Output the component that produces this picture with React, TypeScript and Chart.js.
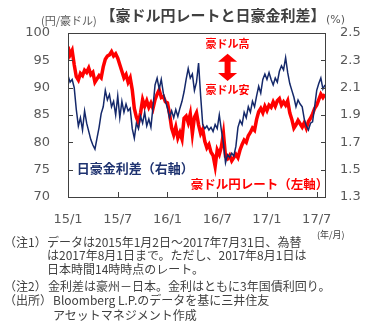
import React, { useEffect, useRef } from "react";
import { Chart, registerables } from "chart.js";
Chart.register(...registerables);

// x positions: quarter-month steps from 2015/1 (index 0) to 2017/8 (index 124)
const tickLabels = ["15/1", "15/7", "16/1", "16/7", "17/1", "17/7"];

// AUD/JPY rate (left axis, 円/豪ドル)
const audJpy = [
  97.5, 96.0, 96.8, 94.2, 92.0, 91.4, 92.6, 92.2, 93.2, 92.8,
  93.6, 92.4, 92.8, 91.0, 91.6, 92.2, 91.8, 93.8, 95.2, 95.8,
  96.0, 96.6, 95.8, 96.2, 95.4, 94.2, 93.0, 91.8, 92.4, 91.0,
  91.8, 89.6, 86.2, 84.6, 83.6, 85.4, 87.8, 86.6, 87.6, 86.4,
  87.2, 86.2, 87.8, 88.8, 89.6, 88.2, 88.4, 87.4, 87.2, 85.2,
  82.6, 81.4, 82.8, 80.8, 81.8, 80.6, 84.4, 84.8, 83.6, 85.2,
  81.6, 84.6, 85.4, 83.2, 81.6, 82.4, 80.2, 79.0, 79.6, 78.2,
  77.6, 75.6, 78.6, 77.8, 79.2, 81.6, 77.4, 77.0, 77.6, 76.6,
  77.2, 77.8, 77.2, 78.6, 79.6, 80.4, 80.0, 81.2, 81.8, 82.6,
  82.2, 84.2, 85.6, 86.2, 85.4, 86.6, 85.8, 86.8, 86.4, 87.4,
  86.6, 87.6, 88.0, 86.8, 87.4, 86.8, 87.6, 85.4, 84.2, 82.6,
  83.2, 84.0, 83.4, 82.8, 83.6, 82.6, 83.8, 84.4, 85.2, 86.2,
  86.8, 87.8, 88.8, 88.2, 88.8,
];

// AU-JP 3y yield spread (right axis, %)
const spread = [
  2.19, 2.14, 2.16, 2.10, 1.94, 1.82, 1.88, 1.79, 1.93, 1.84,
  1.78, 1.72, 1.68, 1.65, 1.73, 1.81, 1.91, 1.96, 2.08, 2.01,
  2.05, 1.96, 2.00, 1.90, 2.04, 1.88, 2.00, 1.92, 1.98, 1.93,
  1.95, 1.80, 1.73, 1.84, 1.80, 1.89, 1.84, 1.92, 1.82, 1.87,
  1.81, 1.96, 2.12, 2.17, 2.09, 2.16, 2.06, 2.00, 1.95, 1.88,
  1.93, 1.88, 1.94, 1.89, 1.95, 2.00, 2.07, 2.16, 2.24, 2.17,
  2.20, 2.08, 2.14, 2.28, 2.04, 1.83, 1.80, 1.82, 1.79, 1.81,
  1.78, 1.83, 1.80, 1.90, 1.79, 1.69, 1.55, 1.61, 1.59, 1.62,
  1.60, 1.67, 1.81, 1.86, 1.83, 1.92, 1.88, 1.96, 1.92, 2.00,
  1.96, 2.04, 2.11, 2.06, 2.16, 2.20, 2.16, 2.21, 2.16, 2.12,
  2.17, 2.14, 2.22, 2.26, 2.23, 2.32, 2.21, 2.13, 2.08, 2.03,
  1.96, 2.01, 1.98, 1.96, 1.87, 1.82, 1.79, 1.84, 1.85, 1.96,
  2.08, 2.13, 2.17, 2.09, 2.12,
];

const JP = '"Noto Sans CJK JP", "Noto Sans", sans-serif';
const NUM = '"DejaVu Sans", sans-serif';
const RED = "#ff0000";
const NAVY = "#14286a";
const GRAY = "#595959";
const DARK = "#404040";

const decor = {
  id: "decor",
  afterDraw(chart: any) {
    const { ctx, chartArea, scales } = chart;
    const { left, right, top, bottom } = chartArea;
    ctx.save();
    // frame
    ctx.strokeStyle = DARK;
    ctx.lineWidth = 1;
    ctx.strokeRect(left + 0.5, top + 0.5, right - left, bottom - top);
    // inner tick marks
    ctx.beginPath();
    scales.y.ticks.forEach((t: any) => {
      const py = Math.round(scales.y.getPixelForValue(t.value)) + 0.5;
      ctx.moveTo(left, py);
      ctx.lineTo(left + 5, py);
    });
    scales.y1.ticks.forEach((t: any) => {
      const py = Math.round(scales.y1.getPixelForValue(t.value)) + 0.5;
      ctx.moveTo(right + 1, py);
      ctx.lineTo(right - 4, py);
    });
    scales.x.ticks.forEach((t: any) => {
      if (t.value % 24 !== 0) return;
      const px = Math.round(scales.x.getPixelForValue(t.value)) + 0.5;
      ctx.moveTo(px, bottom);
      ctx.lineTo(px, bottom - 5);
    });
    ctx.stroke();

    const X = (i: number) => scales.x.getPixelForValue(i);
    const Y = (v: number) => scales.y.getPixelForValue(v);

    // 豪ドル高 / 豪ドル安 with double arrow
    ctx.fillStyle = RED;
    ctx.font = `bold 11px ${JP}`;
    ctx.textAlign = "center";
    ctx.textBaseline = "middle";
    const ax = X(77);
    ctx.fillText("豪ドル高", ax, Y(98.0));
    ctx.fillText("豪ドル安", ax, Y(89.6));
    const yTop = Y(96.2);
    const yBot = Y(91.2);
    const hw = 9.5;
    const hh = 8;
    const sw = 3;
    ctx.beginPath();
    ctx.moveTo(ax, yTop);
    ctx.lineTo(ax + hw, yTop + hh);
    ctx.lineTo(ax + sw, yTop + hh);
    ctx.lineTo(ax + sw, yBot - hh);
    ctx.lineTo(ax + hw, yBot - hh);
    ctx.lineTo(ax, yBot);
    ctx.lineTo(ax - hw, yBot - hh);
    ctx.lineTo(ax - sw, yBot - hh);
    ctx.lineTo(ax - sw, yTop + hh);
    ctx.lineTo(ax - hw, yTop + hh);
    ctx.closePath();
    ctx.fill();

    // series labels
    ctx.textAlign = "left";
    ctx.font = `bold 13px ${JP}`;
    ctx.fillStyle = "#1f3370";
    ctx.fillText("日豪金利差（右軸）", X(4.2), Y(75.3));
    ctx.fillStyle = RED;
    ctx.font = `bold 12.5px ${JP}`;
    ctx.fillText("豪ドル円レート（左軸）", X(59.2), Y(72.4));
    ctx.restore();
  },
};

const noteStyle: React.CSSProperties = {
  position: "absolute",
  fontFamily: JP,
  fontSize: "12px",
  lineHeight: "14px",
  color: DARK,
  whiteSpace: "pre",
};

const notes = [
  { x: 4, y: 243, t: "（注1）" },
  { x: 47, y: 243, t: "データは2015年1月2日～2017年7月31日、為替" },
  { x: 47, y: 256, t: "は2017年8月1日まで。ただし、2017年8月1日は" },
  { x: 47, y: 270, t: "日本時間14時時点のレート。" },
  { x: 4, y: 287, t: "（注2）" },
  { x: 48, y: 287, t: "金利差は豪州－日本。金利はともに3年国債利回り。" },
  { x: 4, y: 301, t: "（出所）" },
  { x: 53, y: 301, t: "Bloomberg L.P.のデータを基に三井住友" },
  { x: 53, y: 316, t: "アセットマネジメント作成" },
];

export default function App() {
  const ref = useRef<HTMLCanvasElement>(null);
  useEffect(() => {
    const chart = new Chart(ref.current as HTMLCanvasElement, {
      type: "line",
      data: {
        datasets: [
          {
            label: "日豪金利差",
            data: spread.map((v, i) => ({ x: i, y: v })),
            yAxisID: "y1",
            borderColor: NAVY,
            borderWidth: 1.5,
            pointRadius: 0,
            tension: 0,
          },
          {
            label: "豪ドル円レート",
            data: audJpy.map((v, i) => ({ x: i, y: v })),
            yAxisID: "y",
            borderColor: RED,
            borderWidth: 3.5,
            pointRadius: 0,
            tension: 0,
          },
        ],
      },
      options: {
        responsive: false,
        animation: false,
        layout: { padding: { top: 33, left: 0, right: 0, bottom: 0 } },
        plugins: { legend: { display: false }, tooltip: { enabled: false } },
        scales: {
          x: {
            type: "linear",
            min: 0,
            max: 124,
            grid: { display: false, drawTicks: false, tickLength: 0 },
            border: { display: false },
            ticks: {
              stepSize: 24,
              includeBounds: false,
              autoSkip: false,
              maxRotation: 0,
              padding: 15,
              color: GRAY,
              font: { family: NUM, size: 13 },
              callback: (v: any) => (v % 24 === 0 ? tickLabels[v / 24] ?? "" : ""),
            },
            afterFit: (s: any) => {
              s.height = 43;
            },
          },
          y: {
            position: "left",
            min: 70,
            max: 100,
            grid: { display: false, drawTicks: false, tickLength: 0 },
            border: { display: false },
            ticks: { stepSize: 5, padding: 18, color: GRAY, font: { family: NUM, size: 13 } },
            afterFit: (s: any) => {
              s.width = 68;
            },
          },
          y1: {
            position: "right",
            min: 1.3,
            max: 2.5,
            grid: { display: false, drawTicks: false, tickLength: 0 },
            border: { display: false },
            ticks: {
              stepSize: 0.2,
              padding: 15,
              color: GRAY,
              font: { family: NUM, size: 13 },
              callback: (v: any) => Number(v).toFixed(1),
            },
            afterFit: (s: any) => {
              s.width = 67;
            },
          },
        },
      } as any,
      plugins: [decor],
    });
    return () => chart.destroy();
  }, []);

  return (
    <div style={{ position: "absolute", left: 0, top: 0, width: 392, height: 329, background: "#fff", overflow: "hidden" }}>
      <canvas ref={ref} width={392} height={240} style={{ position: "absolute", left: 0, top: 0, width: 392, height: 240 }} />
      <div
        style={{
          position: "absolute",
          left: 213,
          top: 6,
          transform: "translateX(-50%)",
          fontFamily: JP,
          fontWeight: "bold",
          fontSize: "15px",
          lineHeight: "18px",
          color: DARK,
          whiteSpace: "pre",
        }}
      >
        【豪ドル円レートと日豪金利差】
      </div>
      <div style={{ position: "absolute", left: 41, top: 13, fontFamily: JP, fontSize: "11px", lineHeight: "14px", color: GRAY, whiteSpace: "pre" }}>
        (円/豪ドル)
      </div>
      <div style={{ position: "absolute", left: 326, top: 13, fontFamily: NUM, fontSize: "11px", lineHeight: "14px", color: GRAY, whiteSpace: "pre" }}>
        (%)
      </div>
      <div style={{ position: "absolute", left: 317, top: 229, fontFamily: JP, fontSize: "9px", lineHeight: "12px", color: DARK, whiteSpace: "pre" }}>
        (年/月)
      </div>
      {notes.map((n, i) => (
        <div key={i} style={{ ...noteStyle, left: n.x, top: n.y - 8 }}>
          {n.t}
        </div>
      ))}
    </div>
  );
}
